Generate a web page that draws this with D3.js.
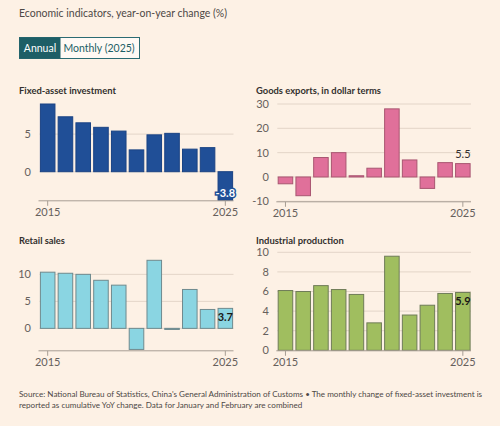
<!DOCTYPE html>
<html>
<head>
<meta charset="utf-8">
<script src="https://cdn.jsdelivr.net/npm/d3@7"></script>
<style>
  body { margin:0; background:#fdf1e5; }
  svg { display:block; font-family:Lato, "Noto Sans", sans-serif; }
</style>
</head>
<body>
<svg id="chart" width="500" height="426"></svg>
<script>
// data
const years = [2015,2016,2017,2018,2019,2020,2021,2022,2023,2024,2025];
const fixedAsset = [9.0,7.3,6.5,5.9,5.4,2.9,4.9,5.1,3.0,3.2,-3.8];
const goodsExports = [-2.8,-7.7,8.0,10.0,0.5,3.6,28.0,7.0,-4.7,5.9,5.5];
const retailSales = [10.4,10.2,10.0,8.9,8.0,-3.9,12.6,-0.2,7.2,3.5,3.7];
const industrial = [6.1,6.0,6.6,6.2,5.7,2.8,9.6,3.6,4.6,5.8,5.9];
const fixedTicks = [0,5];
const exportTicks = [-10,0,10,20,30];
const retailTicks = [0,5,10];
const industrialTicks = [0,2,4,6,8,10];
const xTickYears = [2015,2025];

const svg = d3.select("#chart");

// shrink a text so it fits a width
function fit(sel, w) {
  const len = sel.node().getComputedTextLength();
  if (len > w) {
    const fs = parseFloat(sel.style("font-size"));
    sel.style("font-size", (fs*w/len).toFixed(2)+"px");
  }
}

const title = svg.append("text").attr("x",19).attr("y",17)
  .style("font-size","14.5px").style("fill","#4d4845")
  .text("Economic indicators, year-on-year change (%)");
fit(title, 208);

// toggle buttons
svg.append("rect").attr("x",19.5).attr("y",37.5).attr("width",120).attr("height",21)
  .style("fill","#fff9f4").style("stroke","#2b6b73");
svg.append("rect").attr("x",19.5).attr("y",37.5).attr("width",41).attr("height",21)
  .style("fill","#1d5e66");
svg.append("text").attr("x",40).attr("y",51.5)
  .attr("text-anchor","middle")
  .style("font-size","10.5px").style("fill","#fff").text("Annual");
svg.append("text").attr("x",99).attr("y",51.5).attr("text-anchor","middle")
  .style("font-size","10.5px").style("fill","#1d5e66").text("Monthly (2025)");

const panels = [
  {title:"Fixed-asset investment", values:fixedAsset, ticks:fixedTicks, domain:[-3.8,9],
   left:39.5, right:233.5, top:104, bottom:200.3, titleY:94, labelX:31,
   fill:"#204f97", stroke:"#1a4384", label:"inBottom", titleW:97},
  {title:"Goods exports, in dollar terms", values:goodsExports, ticks:exportTicks, domain:[-10,30],
   left:277.3, right:471, top:104, bottom:201.3, titleY:94, labelX:269,
   fill:"#e0709a", stroke:"#a95671", label:"above", titleW:125},
  {title:"Retail sales", values:retailSales, ticks:retailTicks, domain:[-4.06,12.6],
   left:39.5, right:233.5, top:260.3, bottom:350.3, titleY:243.5, labelX:31,
   fill:"#8ad5e2", stroke:"#6f8a8e", label:"inTop", titleW:46},
  {title:"Industrial production", values:industrial, ticks:industrialTicks, domain:[0,10],
   left:277.3, right:471, top:252.3, bottom:350.3, titleY:243.5, labelX:269,
   fill:"#a0be5f", stroke:"#6f7c58", label:"inTop", titleW:88}
];

panels.forEach(function (p) {
  const g = svg.append("g");
  const x = d3.scaleBand().domain(years).range([p.left,p.right])
    .paddingInner(0.18).paddingOuter(0.05);
  const y = d3.scaleLinear().domain(p.domain).range([p.bottom,p.top]);
  const titleX = p.left < 100 ? 19 : 256;

  const t = g.append("text").attr("x",titleX).attr("y",p.titleY)
    .style("font-size","11px").style("font-weight","700").style("fill","#33302e")
    .text(p.title);
  fit(t, p.titleW);

  // gridlines + y labels
  g.selectAll(".grid").data(p.ticks).enter().append("line")
    .attr("x1",p.left).attr("x2",p.right)
    .attr("y1",d=>y(d)).attr("y2",d=>y(d))
    .style("stroke","#e3d5c8").style("stroke-width",1);
  g.selectAll(".ylab").data(p.ticks).enter().append("text")
    .attr("x",p.labelX).attr("y",d=>y(d)).attr("dy","0.35em")
    .attr("text-anchor","end")
    .style("font-size","11px").style("fill","#66605c")
    .text(d=>d);

  // bars
  g.selectAll(".bar").data(p.values).enter().append("rect")
    .attr("x",(d,i)=>x(years[i]))
    .attr("width",x.bandwidth())
    .attr("y",d=>y(Math.max(0,d)))
    .attr("height",d=>Math.max(1,Math.abs(y(d)-y(0))))
    .style("fill",p.fill).style("stroke",p.stroke).style("stroke-width",1);

  // x axis
  const ax = g.append("g").attr("transform","translate(0,"+(p.bottom+0.5)+")")
    .call(d3.axisBottom(x).tickValues(xTickYears).tickSize(5).tickSizeOuter(0));
  ax.select(".domain").attr("d","M"+(p.left-1)+",0H"+p.right).style("stroke","#a79d94");
  ax.selectAll(".tick line").style("stroke","#a79d94");
  ax.selectAll(".tick text").style("font-size","11px").style("fill","#66605c")
    .style("font-family","Lato, sans-serif").attr("y",7);

  // latest value label
  const last = p.values[p.values.length-1];
  const lx = x(years[years.length-1]) + x.bandwidth()/2;
  const lab = g.append("text").attr("x",lx).attr("text-anchor","middle")
    .style("font-size","11px").style("font-weight","700").text(last);
  if (p.label==="inBottom") {
    lab.attr("y",y(last)-3.5).style("fill","#fff")
      .style("stroke",p.fill).style("stroke-width",3).style("paint-order","stroke");
  } else if (p.label==="above") {
    lab.attr("y",y(last)-6).style("fill","#33302e").style("font-weight","400");
  } else {
    lab.attr("y",y(last)+13).style("fill","#1a1817");
  }
});

const s1 = svg.append("text").attr("x",19).attr("y",397)
  .style("font-size","9.5px").style("fill","#4d4845")
  .text("Source: National Bureau of Statistics, China's General Administration of Customs \u2022 The monthly change of fixed-asset investment is");
fit(s1, 464);
const s2 = svg.append("text").attr("x",19).attr("y",407.5)
  .style("font-size",s1.style("font-size")).style("fill","#4d4845")
  .text("reported as cumulative YoY change. Data for January and February are combined");
</script>
</body>
</html>
